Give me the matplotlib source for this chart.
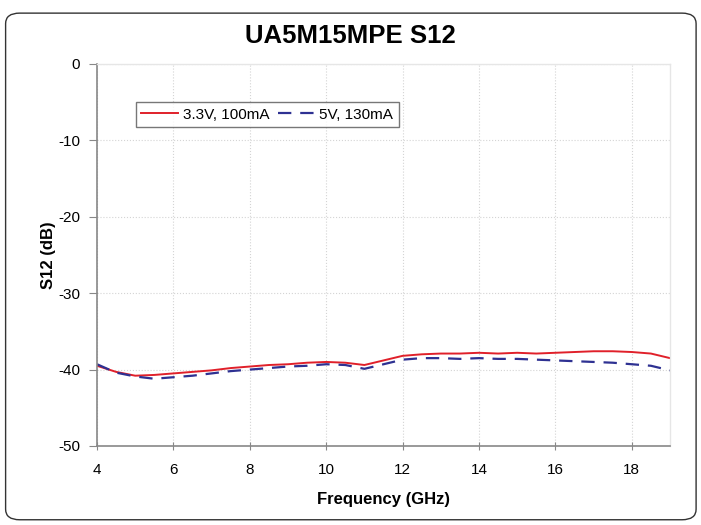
#!/usr/bin/env python

import matplotlib
matplotlib.use("Agg")
import matplotlib.pyplot as plt
from matplotlib.patches import FancyBboxPatch

# frequency points (GHz)
frequency = [4.0, 4.5, 5.0, 5.5, 6.0, 6.5, 7.0, 7.5, 8.0, 8.5, 9.0, 9.5,
             10.0, 10.5, 11.0, 11.5, 12.0, 12.5, 13.0, 13.5, 14.0, 14.5,
             15.0, 15.5, 16.0, 16.5, 17.0, 17.5, 18.0, 18.5, 19.0]

# S12 at 3.3V, 100mA
s12_33v = [-39.5, -40.3, -40.8, -40.7, -40.5, -40.3, -40.1, -39.8, -39.6,
           -39.4, -39.3, -39.1, -39.0, -39.1, -39.4, -38.8, -38.2, -38.0,
           -37.9, -37.9, -37.8, -37.9, -37.8, -37.9, -37.8, -37.7, -37.6,
           -37.6, -37.7, -37.9, -38.5]

# S12 at 5V, 130mA
s12_5v = [-39.3, -40.4, -40.9, -41.2, -41.0, -40.8, -40.5, -40.2, -40.0,
          -39.8, -39.6, -39.5, -39.3, -39.4, -39.9, -39.3, -38.7, -38.5,
          -38.5, -38.6, -38.5, -38.6, -38.6, -38.7, -38.8, -38.9, -39.0,
          -39.1, -39.3, -39.5, -40.1]

x_ticks = [4, 6, 8, 10, 12, 14, 16, 18]
y_ticks = [0, -10, -20, -30, -40, -50]


def main():
    plt.rcParams["font.family"] = ["Liberation Sans", "DejaVu Sans"]
    plt.rcParams["axes.unicode_minus"] = False
    fig = plt.figure(figsize=(7.01, 5.25), dpi=100)

    # rounded frame around the whole chart
    frame = FancyBboxPatch((0.008, 0.01), 0.985, 0.965,
                           boxstyle="round,pad=0,rounding_size=0.02",
                           transform=fig.transFigure, fill=False,
                           edgecolor="#333333", linewidth=1.0)
    fig.patches.append(frame)

    ax = fig.add_axes([0.1384, 0.1505, 0.8174, 0.7276])

    ax.plot(frequency, s12_33v, color="#e0202a", linewidth=1.4,
            label="3.3V, 100mA")
    ax.plot(frequency, s12_5v, color="#2e3192", linewidth=1.6,
            linestyle=(0, (6, 4)), label="5V, 130mA")

    ax.set_xlim(4, 19)
    ax.set_ylim(-50, 0)
    ax.set_xticks(x_ticks)
    ax.set_yticks(y_ticks)
    ax.tick_params(axis="both", labelsize=11, colors="#888888",
                   labelcolor="black", length=6)
    ax.tick_params(axis="x", direction="inout", pad=9)
    ax.tick_params(axis="y", direction="out", pad=6)

    ax.grid(True, color="#d4d4d4", linestyle=":", linewidth=0.8)
    ax.set_axisbelow(True)

    for side in ["left", "bottom"]:
        ax.spines[side].set_color("#888888")
        ax.spines[side].set_linewidth(1.2)
    for side in ["top", "right"]:
        ax.spines[side].set_color("#e6e6e6")
        ax.spines[side].set_linewidth(1.0)

    ax.set_xlabel("Frequency (GHz)", fontsize=12, fontweight="bold",
                  labelpad=11)
    ax.set_ylabel("S12 (dB)", fontsize=12, fontweight="bold", labelpad=2)
    fig.suptitle("UA5M15MPE S12", fontsize=18.5, fontweight="bold",
                 y=0.955)

    legend = ax.legend(loc="upper left", bbox_to_anchor=(0.068, 0.9),
                       ncol=2, fontsize=11, frameon=True, fancybox=False,
                       handlelength=2.4, handletextpad=0.3,
                       columnspacing=0.6, borderpad=0.35,
                       borderaxespad=0)
    legend.get_frame().set_edgecolor("#555555")
    legend.get_frame().set_linewidth(1.0)

    fig.savefig("out.png", dpi=100)
    plt.close(fig)


if __name__ == '__main__':
    main()
